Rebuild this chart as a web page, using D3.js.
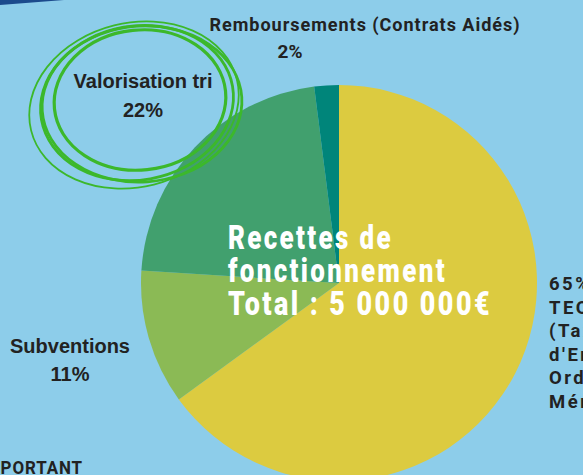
<!DOCTYPE html>
<html>
<head>
<meta charset="utf-8">
<script src="https://cdn.jsdelivr.net/npm/d3@7"></script>
<style>
  html, body { margin: 0; padding: 0; background: #8dcdea; overflow: hidden; }
  svg { display: block; }
</style>
</head>
<body>
<div id="chart"></div>
<script>
// données
const categories = ['TEOM', 'Subventions', 'Valorisation tri', 'Remboursements'];
const values = [65, 11, 22, 2];
const labels = [
  ['65%', 'TEOM', '(Taxe', "d'Enlèvement des", 'Ordures', 'Ménagères)'],
  ['Subventions', '11%'],
  ['Valorisation tri', '22%'],
  ['Remboursements  (Contrats Aidés)', '2%']
];
const titleLines = ['Recettes de', 'fonctionnement', 'Total : 5 000 000€'];

const W = 583, H = 475;
const colors = ['#dccb40', '#8bba55', '#41a06e', '#00857a'];

const svg = d3.select('#chart').append('svg')
  .attr('width', W)
  .attr('height', H);

svg.append('rect').attr('width', W).attr('height', H).attr('fill', '#8dcdea');

// petite bande bleue en haut à gauche
svg.append('path')
  .attr('d', 'M0,0 L64,0 L0,5 Z')
  .attr('fill', '#1c4a8c');

const cx = 339, cy = 283, r = 198;

const pie = d3.pie().sort(null).value(d => d);
const arc = d3.arc().innerRadius(0).outerRadius(r);

const g = svg.append('g').attr('transform', `translate(${cx},${cy})`);
g.selectAll('path.slice')
  .data(pie(values))
  .enter().append('path')
  .attr('class', 'slice')
  .attr('d', arc)
  .attr('fill', (d, i) => colors[i]);

// cercles dessinés à la main autour de "Valorisation tri"
const doodle = svg.append('g').attr('fill', 'none').attr('stroke', '#3cb82b');
[
  { x: 140, y: 100, rx: 86, ry: 70, rot: -6, w: 3.2 },
  { x: 137, y: 103, rx: 97, ry: 77, rot: -10, w: 2.8 },
  { x: 134, y: 105, rx: 106, ry: 82, rot: -14, w: 1.8 },
  { x: 142, y: 104, rx: 100, ry: 78, rot: -4, w: 2.8 }
].forEach(e => {
  doodle.append('ellipse')
    .attr('cx', e.x).attr('cy', e.y)
    .attr('rx', e.rx).attr('ry', e.ry)
    .attr('stroke-width', e.w)
    .attr('transform', `rotate(${e.rot},${e.x},${e.y})`);
});

// étiquettes
const sans = "'Liberation Sans', Arial, sans-serif";
const cond = "Roboto, 'Liberation Sans', sans-serif";

function block(lines, x, y0, dy, opts) {
  lines.forEach((t, i) => {
    const el = svg.append('text')
      .attr('x', x)
      .attr('y', y0 + i * dy)
      .attr('text-anchor', opts.anchor || 'middle')
      .attr('fill', opts.fill || '#222')
      .style('font-family', opts.family)
      .style('font-weight', opts.weight || 'bold')
      .style('font-size', opts.size + 'px')
      .style('letter-spacing', (opts.ls || 0) + 'px')
      .text(t);
    if (opts.lengths && opts.lengths[i]) {
      el.attr('textLength', opts.lengths[i]).attr('lengthAdjust', 'spacingAndGlyphs');
    }
  });
}

block(labels[2], 143, 88, 29, { family: sans, size: 20 });
block(labels[1], 70, 353, 28, { family: sans, size: 20 });
block([labels[3][0]], 365, 31, 0, { family: cond, size: 19, ls: 1, lengths: [311] });
block([labels[3][1]], 290, 58, 0, { family: cond, size: 19 });
block(labels[0], 549, 290, 23.5, { family: cond, size: 18.5, ls: 2.5, anchor: 'start' });
block(['IMPORTANT'], 83, 474, 0, { family: cond, size: 19, ls: 1, anchor: 'end', lengths: [104] });

// titre central
block(titleLines, 228, 249, 33, {
  family: cond, size: 33, ls: 3, weight: 900, fill: '#ffffff', anchor: 'start',
  lengths: [165, 219, 264]
});
</script>
</body>
</html>
